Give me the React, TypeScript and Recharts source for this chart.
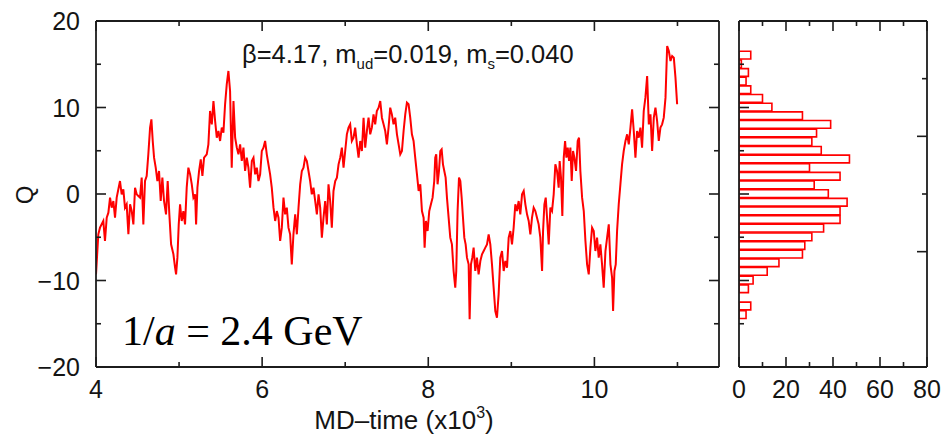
import React from 'react';
import { LineChart, Line, XAxis, YAxis, BarChart, Bar } from 'recharts';

// MD-time (x10^3) vs topological charge Q
const seg4to57: [number, number][] = [
  [4.0, -9.29], [4.028, -4.66], [4.048, -3.89], [4.088, -3.12], [4.108, -5.43], [4.129, -2.74], [4.149, -2.16],
  [4.169, -0.42], [4.189, -1.58], [4.209, -0.81], [4.229, -2.74], [4.249, -0.42], [4.289, 1.5], [4.309, -0.04],
  [4.329, 0.54], [4.349, -1.58], [4.369, -1.19], [4.39, -4.66], [4.41, -1.19], [4.43, -1.97], [4.45, -3.51],
  [4.47, 0.73], [4.49, -0.04], [4.51, -0.23], [4.53, -0.42], [4.55, 1.89], [4.57, -3.51], [4.59, 1.5],
  [4.61, 2.08], [4.63, 4.59], [4.651, 7.67], [4.667, 8.63], [4.683, 6.13], [4.699, 4.2], [4.719, 3.04],
  [4.739, 1.5], [4.759, 2.66], [4.779, -0.81], [4.799, 1.89], [4.819, -0.81], [4.843, -2.35], [4.863, 1.5],
  [4.883, -2.35], [4.904, -5.82], [4.932, -6.97], [4.952, -8.52], [4.964, -9.29], [4.98, -7.36], [4.996, -3.51],
  [5.012, -1.19], [5.032, -3.12], [5.052, -1.97], [5.072, -3.51], [5.092, 0.73], [5.112, 3.04], [5.133, 2.27],
  [5.153, 1.12], [5.173, -0.42], [5.193, -0.04], [5.205, -3.51], [5.221, 0.73], [5.241, 2.66], [5.261, 4.01],
  [5.281, 2.08], [5.301, 4.2], [5.333, 4.59], [5.353, 5.74], [5.373, 9.6], [5.394, 8.05], [5.414, 10.75],
  [5.434, 8.44], [5.454, 6.51], [5.474, 7.28], [5.494, 6.13], [5.514, 7.67], [5.534, 7.09], [5.554, 10.37],
  [5.574, 12.68], [5.594, 14.22], [5.614, 11.91], [5.634, 3.04], [5.655, 10.75], [5.675, 6.51], [5.695, 5.36],
  [5.715, 4.59],
];
const seg57to75: [number, number][] = [
  [5.735, 5.74], [5.755, 3.82], [5.775, 5.36], [5.795, 2.66], [5.815, 4.2], [5.835, 3.04], [5.855, 0.73],
  [5.876, 3.82], [5.896, 4.2], [5.916, 2.27], [5.936, 3.04], [5.956, 1.5], [5.976, 2.27], [5.996, 4.97],
  [6.016, 5.36], [6.036, 6.13], [6.056, 4.59], [6.076, 3.43], [6.096, 2.27], [6.116, 0.73], [6.137, -1.58],
  [6.157, -3.12], [6.177, -1.97], [6.197, -2.74], [6.217, -5.43], [6.237, -3.89], [6.257, -0.42], [6.277, -2.35],
  [6.297, -1.58], [6.317, -3.89], [6.337, -4.66], [6.357, -8.13], [6.377, -4.66], [6.398, -2.35], [6.418, -4.66],
  [6.438, -1.58], [6.458, 1.12], [6.478, 2.66], [6.498, 3.04], [6.518, 4.2], [6.538, 3.82], [6.558, 2.66],
  [6.578, 1.5], [6.598, -0.04], [6.618, 0.73], [6.639, -0.81], [6.659, -2.35], [6.679, -0.04], [6.699, -1.58],
  [6.719, -5.05], [6.739, -2.74], [6.759, -0.81], [6.779, -3.51], [6.799, 1.12], [6.819, -0.81], [6.839, -3.89],
  [6.859, 0.35], [6.88, 1.5], [6.9, 1.89], [6.92, 3.43], [6.94, 4.2], [6.96, 5.36], [6.98, 3.04], [7.0, 4.97],
  [7.02, 6.9], [7.04, 7.67], [7.06, 8.05], [7.08, 6.13], [7.1, 6.51], [7.12, 7.67], [7.141, 5.74], [7.161, 4.2],
  [7.181, 6.13], [7.201, 4.97], [7.221, 8.82], [7.241, 5.36], [7.261, 7.28], [7.281, 8.82], [7.301, 6.9],
  [7.321, 7.67], [7.341, 9.21], [7.361, 8.05], [7.381, 9.6], [7.402, 9.98], [7.422, 10.75], [7.442, 8.82],
  [7.462, 8.05], [7.482, 7.28], [7.502, 5.74], [7.522, 7.67],
];
const seg75to93: [number, number][] = [
  [7.542, 9.98], [7.562, 9.21], [7.582, 8.05], [7.602, 8.82], [7.623, 6.9], [7.643, 5.74], [7.663, 4.59],
  [7.683, 4.97], [7.703, 7.28], [7.723, 9.21], [7.743, 10.56], [7.763, 10.37], [7.783, 8.82], [7.803, 6.9],
  [7.823, 6.13], [7.843, 4.2], [7.864, 2.27], [7.884, 0.35], [7.904, 1.12], [7.924, -1.97], [7.944, -2.74],
  [7.956, -6.2], [7.972, -3.12], [7.992, -4.28], [8.012, -1.97], [8.032, -1.19], [8.052, -0.42], [8.072, 1.5],
  [8.084, 4.2], [8.096, 4.59], [8.112, 1.12], [8.129, 2.66], [8.145, 4.97], [8.161, 5.16], [8.177, 3.43],
  [8.193, 2.66], [8.209, 1.89], [8.225, -0.42], [8.245, -2.74], [8.265, -5.05], [8.285, -5.82], [8.305, -8.9],
  [8.325, -10.83], [8.337, -8.9], [8.353, -1.97], [8.37, 1.89], [8.386, 1.5], [8.402, -0.42], [8.418, -2.74],
  [8.434, -5.05], [8.45, -5.82], [8.466, -7.36], [8.486, -8.13], [8.498, -14.49], [8.514, -8.13], [8.53, -7.36],
  [8.546, -6.2], [8.566, -8.9], [8.586, -7.36], [8.606, -9.29], [8.627, -7.75], [8.647, -6.97], [8.667, -6.59],
  [8.687, -6.2], [8.707, -5.82], [8.727, -4.66], [8.747, -5.82], [8.767, -8.13], [8.787, -10.83], [8.807, -13.53],
  [8.827, -14.3], [8.847, -11.6], [8.867, -7.36], [8.888, -6.59], [8.908, -8.9], [8.928, -7.75], [8.948, -8.52],
  [8.968, -5.05], [8.988, -4.28], [9.008, -5.82], [9.028, -3.89], [9.048, -1.19], [9.068, -1.97], [9.088, -0.81],
  [9.108, -2.35], [9.129, -0.04], [9.149, 0.35], [9.169, -1.19], [9.189, -2.35], [9.209, -3.12], [9.229, -4.66],
  [9.249, -2.74], [9.269, -1.58], [9.289, -1.97], [9.309, -2.74], [9.329, -3.51],
];
const seg93to11: [number, number][] = [
  [9.349, -5.05], [9.37, -8.9], [9.382, -4.28], [9.398, -1.19], [9.414, -0.42], [9.43, -2.74], [9.45, -5.82],
  [9.47, -1.58], [9.49, -1.97], [9.51, -0.04], [9.53, 3.43], [9.55, 2.66], [9.57, 0.73], [9.582, 3.82],
  [9.598, 1.89], [9.614, -2.54], [9.631, 4.2], [9.647, 6.13], [9.663, 4.2], [9.679, 5.36], [9.695, 3.82],
  [9.711, 5.36], [9.727, 1.5], [9.743, 4.97], [9.759, 4.2], [9.779, 2.66], [9.799, 6.13], [9.815, 6.51],
  [9.831, 2.66], [9.852, -0.42], [9.872, -1.97], [9.892, -5.43], [9.912, -8.13], [9.932, -9.29], [9.952, -6.2],
  [9.972, -3.89], [9.992, -4.28], [10.012, -6.59], [10.032, -5.05], [10.052, -7.36], [10.072, -5.82],
  [10.092, -8.13], [10.112, -10.83], [10.133, -6.59], [10.153, -5.05], [10.173, -3.51], [10.193, -8.13],
  [10.213, -9.67], [10.225, -13.53], [10.241, -8.9], [10.257, -8.13], [10.273, -4.28], [10.293, -1.19],
  [10.313, 1.12], [10.333, 3.43], [10.353, 4.97], [10.374, 6.13], [10.394, 6.9], [10.414, 5.74], [10.434, 7.67],
  [10.454, 9.79], [10.474, 7.28], [10.494, 4.2], [10.514, 7.28], [10.534, 6.51], [10.554, 7.67], [10.574, 5.36],
  [10.594, 9.6], [10.614, 11.14], [10.635, 13.64], [10.655, 8.05], [10.675, 9.21], [10.695, 4.97], [10.715, 8.82],
  [10.735, 9.98], [10.755, 8.44], [10.775, 6.13], [10.795, 7.67], [10.815, 8.05], [10.835, 8.82], [10.856, 11.14],
  [10.876, 17.11], [10.896, 16.53], [10.916, 15.38], [10.936, 15.95], [10.956, 15.76], [10.976, 13.45],
  [10.996, 10.37],
];

// histogram of Q (bin centres and counts)
const histQ = [16, 15, 14, 13, 12, 11, 10, 9, 8, 7, 6, 5, 4, 3, 2, 1, 0, -1, -2, -3, -4, -5, -6, -7, -8, -9, -10, -11, -12, -13, -14];
const histCount = [5, 1, 4, 3, 5, 10, 14, 27, 39, 33, 31, 35, 47, 30, 43, 32, 38, 46, 43, 43, 36, 31, 28, 27, 17, 12, 6, 4, 0, 5, 3];

// ticks
const timeTicks = [4, 5, 6, 7, 8, 9, 10, 11];
const timeLabels = [4, 6, 8, 10];
const qTicks = [-20, -15, -10, -5, 0, 5, 10, 15, 20];
const qLabels = [-20, -10, 0, 10, 20];
const countTicks = [0, 10, 20, 30, 40, 50, 60, 70, 80];
const countLabels = [0, 20, 40, 60, 80];

const lineData = [...seg4to57, ...seg57to75, ...seg75to93, ...seg93to11].map(([t, q]) => ({ t, q }));
const histData = histQ.map((q, i) => ({ q, count: histCount[i] }));

const AXIS = '#1c1c1c';
const TXT = '#141414';
const RED = '#ff0000';
const SANS = '"Liberation Sans", Arial, Helvetica, sans-serif';
const TICK_FS = 25;

type Side = 'bottom' | 'top' | 'left' | 'right';

const fmt = (v: number) => (v < 0 ? '\u2212' + Math.abs(v) : String(v));

function makeTick(side: Side, labels: number[], major: (v: number) => boolean) {
  return (props: any) => {
    const { x, y, payload } = props;
    const v = payload.value as number;
    const len = major(v) ? 10 : 5;
    const show = labels.includes(v);
    let line;
    let label = null;
    if (side === 'bottom') {
      line = <line x1={x} x2={x} y1={y} y2={y - len} stroke={AXIS} strokeWidth={1.6} />;
      if (show)
        label = (
          <text x={x} y={y + 31} textAnchor="middle" fontFamily={SANS} fontSize={TICK_FS} fill={TXT}>
            {fmt(v)}
          </text>
        );
    } else if (side === 'top') {
      line = <line x1={x} x2={x} y1={y} y2={y + len} stroke={AXIS} strokeWidth={1.6} />;
    } else if (side === 'left') {
      line = <line x1={x} x2={x + len} y1={y} y2={y} stroke={AXIS} strokeWidth={1.6} />;
      if (show)
        label = (
          <text x={x - 16} y={y + 9} textAnchor="end" fontFamily={SANS} fontSize={TICK_FS} fill={TXT}>
            {fmt(v)}
          </text>
        );
    } else {
      line = <line x1={x} x2={x - len} y1={y} y2={y} stroke={AXIS} strokeWidth={1.6} />;
    }
    return (
      <g>
        {line}
        {label}
      </g>
    );
  };
}

const axisLine = { stroke: AXIS, strokeWidth: 1.8 };

export default function App() {
  return (
    <div style={{ position: 'absolute', left: 0, top: 0, width: 943, height: 437, background: '#fff', overflow: 'hidden' }}>
      <div style={{ position: 'absolute', left: 0, top: 0 }}>
        <LineChart width={729} height={437} data={lineData} margin={{ top: 20, right: 0, bottom: 30, left: 36 }}>
          <XAxis
            xAxisId="b"
            dataKey="t"
            type="number"
            domain={[4, 11.5]}
            allowDataOverflow
            ticks={timeTicks}
            interval={0}
            height={40}
            tickSize={0}
            tickMargin={0}
            axisLine={axisLine}
            tickLine={false}
            tick={makeTick('bottom', timeLabels, (v) => v % 2 === 0)}
          />
          <XAxis
            xAxisId="t"
            orientation="top"
            dataKey="t"
            type="number"
            domain={[4, 11.5]}
            allowDataOverflow
            ticks={timeTicks}
            interval={0}
            height={1}
            tickSize={0}
            tickMargin={0}
            axisLine={axisLine}
            tickLine={false}
            tick={makeTick('top', [], (v) => v % 2 === 0)}
          />
          <YAxis
            yAxisId="l"
            type="number"
            domain={[-20, 20]}
            allowDataOverflow
            ticks={qTicks}
            interval={0}
            width={60}
            tickSize={0}
            tickMargin={0}
            axisLine={axisLine}
            tickLine={false}
            tick={makeTick('left', qLabels, (v) => v % 10 === 0)}
          />
          <YAxis
            yAxisId="r"
            orientation="right"
            type="number"
            domain={[-20, 20]}
            allowDataOverflow
            ticks={qTicks}
            interval={0}
            width={10}
            tickSize={0}
            tickMargin={0}
            axisLine={axisLine}
            tickLine={false}
            tick={makeTick('right', [], (v) => v % 10 === 0)}
          />
          <Line
            xAxisId="b"
            yAxisId="l"
            type="linear"
            dataKey="q"
            stroke={RED}
            strokeWidth={2}
            dot={false}
            isAnimationActive={false}
          />
        </LineChart>
      </div>
      <div style={{ position: 'absolute', left: 729, top: 0 }}>
        <BarChart
          width={214}
          height={437}
          data={histData}
          layout="vertical"
          barCategoryGap={0}
          barGap={0}
          margin={{ top: 20, right: 6, bottom: 30, left: 0 }}
        >
          <XAxis
            xAxisId="b"
            type="number"
            domain={[0, 80]}
            allowDataOverflow
            ticks={countTicks}
            interval={0}
            height={40}
            tickSize={0}
            tickMargin={0}
            axisLine={axisLine}
            tickLine={false}
            tick={makeTick('bottom', countLabels, (v) => v % 20 === 0)}
          />
          <XAxis
            xAxisId="t"
            orientation="top"
            type="number"
            domain={[0, 80]}
            allowDataOverflow
            ticks={countTicks}
            interval={0}
            height={1}
            tickSize={0}
            tickMargin={0}
            axisLine={axisLine}
            tickLine={false}
            tick={makeTick('top', [], (v) => v % 20 === 0)}
          />
          <YAxis
            yAxisId="l"
            dataKey="q"
            type="number"
            domain={[-20, 20]}
            reversed
            allowDataOverflow
            ticks={qTicks}
            interval={0}
            width={10}
            tickSize={0}
            tickMargin={0}
            axisLine={axisLine}
            tickLine={false}
            tick={makeTick('left', [], (v) => v % 10 === 0)}
          />
          <YAxis
            yAxisId="r"
            orientation="right"
            type="number"
            domain={[-20, 20]}
            allowDataOverflow
            ticks={qTicks}
            interval={0}
            width={10}
            tickSize={0}
            tickMargin={0}
            axisLine={axisLine}
            tickLine={false}
            tick={makeTick('right', [], (v) => v % 10 === 0)}
          />
          <Bar
            xAxisId="b"
            yAxisId="l"
            dataKey="count"
            fill="none"
            stroke={RED}
            strokeWidth={1.6}
            barSize={8.65}
            isAnimationActive={false}
          />
        </BarChart>
      </div>
      <svg width={943} height={437} style={{ position: 'absolute', left: 0, top: 0, pointerEvents: 'none' }}>
        <text x={242} y={63} fontFamily={SANS} fontSize={25.5} fill={TXT}>
          β=4.17, m
          <tspan fontSize={15} dy={6}>ud</tspan>
          <tspan dy={-6}>=0.019, m</tspan>
          <tspan fontSize={15} dy={6}>s</tspan>
          <tspan dy={-6}>=0.040</tspan>
        </text>
        <text x={0} y={0} transform="translate(33,195) rotate(-90)" textAnchor="middle" fontFamily={SANS} fontSize={24} fill={TXT}>
          Q
        </text>
        <text x={404} y={429} textAnchor="middle" fontFamily={SANS} fontSize={26} fill={TXT}>
          MD–time (x10
          <tspan fontSize={16} dy={-11}>3</tspan>
          <tspan dy={11}>)</tspan>
        </text>
        <text x={122} y={345} fontFamily={'"Liberation Serif", "Times New Roman", serif'} fontSize={42} fill="#000">
          1/<tspan fontStyle="italic">a</tspan> = 2.4 GeV
        </text>
      </svg>
    </div>
  );
}
